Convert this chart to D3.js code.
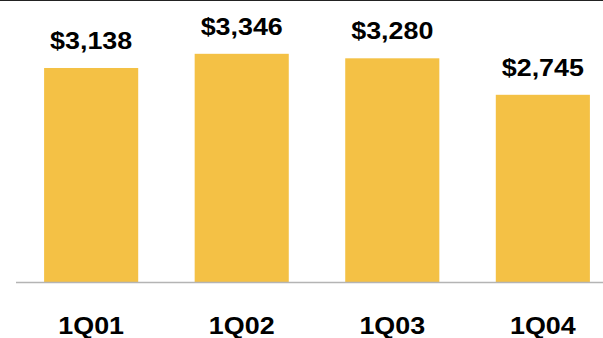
<!DOCTYPE html>
<html>
<head>
<meta charset="utf-8">
<script src="https://cdn.jsdelivr.net/npm/d3@7"></script>
<style>
  html, body { margin: 0; padding: 0; background: #fff; }
  svg { display: block; }
  text { font-family: "Liberation Sans", Arial, sans-serif; font-weight: bold; fill: #000; }
</style>
</head>
<body>
<script>
// Quarterly values
const quarters = ["1Q01", "1Q02", "1Q03", "1Q04"];
const values = [3138, 3346, 3280, 2745];
const valueLabels = ["$3,138", "$3,346", "$3,280", "$2,745"];

const W = 603, H = 338;
const svg = d3.select("body").append("svg").attr("width", W).attr("height", H);

const x = d3.scaleBand().domain(quarters).range([17, 617]).paddingInner(0.375).paddingOuter(0.18);
const y = d3.scaleLinear().domain([0, 4135]).range([282, 0]);

// top rule
svg.append("line").attr("x1", 0).attr("x2", W).attr("y1", 0.5).attr("y2", 0.5)
  .attr("stroke", "#222").attr("stroke-width", 1);

svg.selectAll("rect.bar").data(values).join("rect")
  .attr("class", "bar")
  .attr("x", (d, i) => x(quarters[i]))
  .attr("width", x.bandwidth())
  .attr("y", d => y(d))
  .attr("height", d => y(0) - y(d))
  .attr("fill", "#F4C145");

// baseline
svg.append("line").attr("x1", 16).attr("x2", W).attr("y1", 282.5).attr("y2", 282.5)
  .attr("stroke", "#b4b4b4").attr("stroke-width", 1.5);

const sx = 1.12;
svg.selectAll("text.val").data(values).join("text")
  .attr("class", "val")
  .attr("text-anchor", "middle")
  .attr("font-size", 24)
  .attr("transform", (d, i) => `translate(${x(quarters[i]) + x.bandwidth() / 2},${y(d) - 19}) scale(${sx},1)`)
  .text((d, i) => valueLabels[i]);

svg.selectAll("text.cat").data(quarters).join("text")
  .attr("class", "cat")
  .attr("text-anchor", "middle")
  .attr("font-size", 24)
  .attr("transform", d => `translate(${x(d) + x.bandwidth() / 2},334) scale(${sx},1)`)
  .text(d => d);
</script>
</body>
</html>
